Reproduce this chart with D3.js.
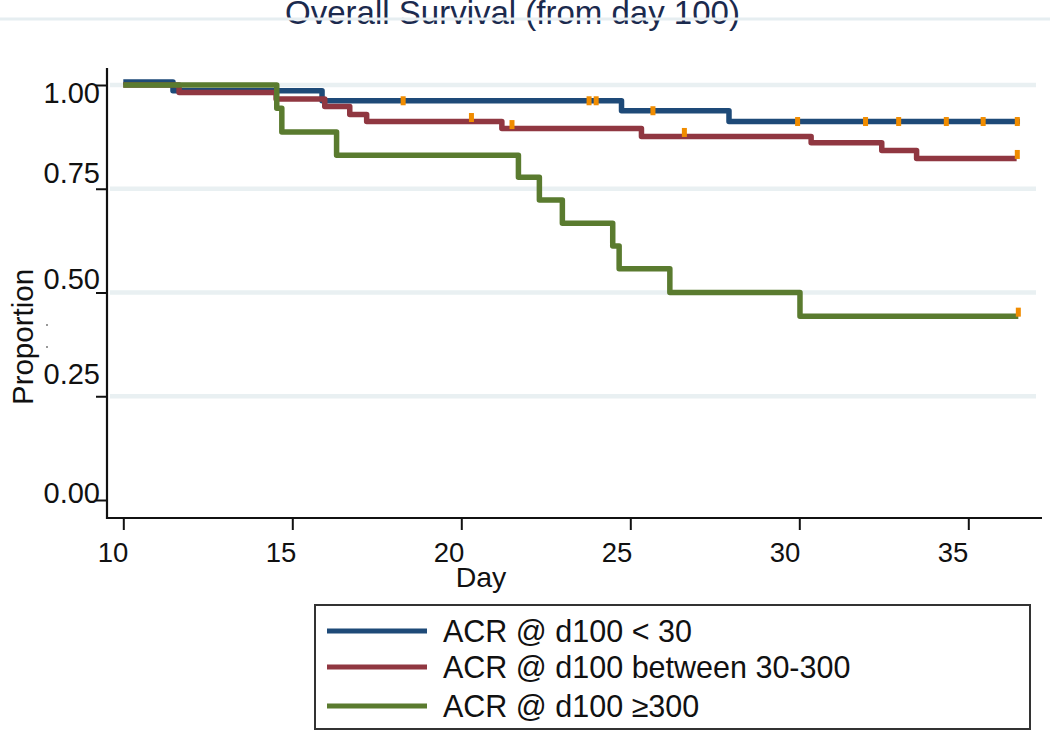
<!DOCTYPE html>
<html>
<head>
<meta charset="utf-8">
<script src="https://cdn.jsdelivr.net/npm/d3@7"></script>
<style>
  html, body { margin: 0; padding: 0; background: #fff; }
  svg { display: block; font-family: "Liberation Sans", Arial, sans-serif; }
</style>
</head>
<body>
<svg id="chart" width="1050" height="732"></svg>
<script>
// ---------------- data ----------------
const titleText = "Overall Survival (from day 100)";
const xLabel = "Day";
const yLabel = "Proportion";
const xTicks = [10, 15, 20, 25, 30, 35];
const yTicks = [0, 0.25, 0.5, 0.75, 1];
const yTickLabels = ["0.00", "0.25", "0.50", "0.75", "1.00"];
const gridValues = [0.25, 0.5, 0.75, 1];
const seriesNames = ["ACR @ d100 < 30", "ACR @ d100 between 30-300", "ACR @ d100 \u2265300"];

const blueTimes = [10, 11.47, 15.88, 24.74, 27.92, 36.53];
const blueSurv  = [1.007, 0.986, 0.962, 0.938, 0.912, 0.912];
const blueCensor = [18.28, 23.78, 23.99, 25.67, 29.95, 31.96, 32.94, 34.35, 35.44, 36.45];

const redTimes = [10, 11.65, 14.52, 15.96, 16.7, 17.2, 21.2, 25.33, 30.35, 32.44, 33.47, 36.43];
const redSurv  = [1.0, 0.982, 0.966, 0.948, 0.929, 0.912, 0.895, 0.876, 0.861, 0.842, 0.823, 0.823];
const redCensor = [20.3, 21.5, 26.6, 36.45];

const greenTimes = [10, 14.54, 14.69, 16.31, 21.69, 22.31, 22.99, 24.48, 24.67, 26.17, 30.02, 36.48];
const greenSurv  = [1.0, 0.944, 0.887, 0.831, 0.778, 0.723, 0.667, 0.612, 0.557, 0.5, 0.443, 0.443];
const greenCensor = [36.48];

// ---------------- styles / layout ----------------
const colors = ["#1e4a78", "#903741", "#5a7b2f"];
const censorColor = "#f08c00";
const censorShift = [0, -4, -4];
const yLabelShift = [3, -12, -3.5, -5.5, 17.7]; // baseline offsets for 0,.25,.5,.75,1 labels

const svg = d3.select("#chart");

const x = d3.scaleLinear().domain([10, 35]).range([123.3, 968.3]);
const y = d3.scaleLinear().domain([0, 1]).range([500, 85]);
const xLabelPos = d3.scaleLinear().domain([10, 35]).range([113, 953]);

// title
svg.append("text")
  .attr("x", 512.5).attr("y", 24)
  .attr("text-anchor", "middle")
  .attr("font-size", 33)
  .attr("fill", "#1b2a4e")
  .text(titleText);

// stray top grid line across title
svg.append("line")
  .attr("x1", 0).attr("x2", 1050).attr("y1", 19).attr("y2", 19)
  .attr("stroke", "#e6eef1").attr("stroke-width", 3);

// grid lines
svg.append("g").selectAll("line").data(gridValues).join("line")
  .attr("x1", 110).attr("x2", 1036)
  .attr("y1", d => y(d)).attr("y2", d => y(d))
  .attr("stroke", "#e9f0f2").attr("stroke-width", 4.5);

// axes (ticks via d3 axes)
const yAxis = svg.append("g").attr("transform", "translate(107,0)")
  .call(d3.axisLeft(y).tickValues(yTicks).tickSize(11).tickFormat(""));
yAxis.select(".domain").remove();
yAxis.selectAll(".tick line").attr("stroke", "#111").attr("stroke-width", 2);

const xAxis = svg.append("g").attr("transform", "translate(0,518)")
  .call(d3.axisBottom(x).tickValues(xTicks).tickSize(12).tickFormat(""));
xAxis.select(".domain").remove();
xAxis.selectAll(".tick line").attr("stroke", "#111").attr("stroke-width", 2);

// axis lines
svg.append("line").attr("x1", 107).attr("x2", 107).attr("y1", 68).attr("y2", 519)
  .attr("stroke", "#111").attr("stroke-width", 2.2);
svg.append("line").attr("x1", 106).attr("x2", 1042).attr("y1", 518).attr("y2", 518)
  .attr("stroke", "#111").attr("stroke-width", 2.2);

// y tick labels
svg.append("g").selectAll("text").data(yTicks).join("text")
  .attr("x", 100)
  .attr("y", (d, i) => y(d) + yLabelShift[i])
  .attr("text-anchor", "end")
  .attr("font-size", 29)
  .attr("fill", "#111")
  .text((d, i) => yTickLabels[i]);

// x tick labels
svg.append("g").selectAll("text").data(xTicks).join("text")
  .attr("x", d => xLabelPos(d))
  .attr("y", 562)
  .attr("text-anchor", "middle")
  .attr("font-size", 27.5)
  .attr("fill", "#111")
  .text(d => d);

// axis titles
svg.append("text")
  .attr("x", 481).attr("y", 587)
  .attr("text-anchor", "middle")
  .attr("font-size", 28.5)
  .attr("fill", "#111")
  .text(xLabel);

svg.append("text")
  .attr("transform", "translate(33,337) rotate(-90)")
  .attr("text-anchor", "middle")
  .attr("font-size", 29.5)
  .attr("fill", "#111")
  .text(yLabel);

// tiny artifact dots near y label
svg.append("g").selectAll("circle").data([325, 347]).join("circle")
  .attr("cx", 47).attr("cy", d => d).attr("r", 1)
  .attr("fill", "#777");

// curves
const series = [
  { t: blueTimes, s: blueSurv, c: blueCensor },
  { t: redTimes, s: redSurv, c: redCensor },
  { t: greenTimes, s: greenSurv, c: greenCensor }
];

const line = d3.line()
  .x(d => x(d[0]))
  .y(d => y(d[1]))
  .curve(d3.curveStepAfter);

function survAt(sr, t) {
  let v = sr.s[0];
  for (let i = 0; i < sr.t.length; i++) { if (sr.t[i] <= t) v = sr.s[i]; }
  return v;
}

series.forEach((sr, i) => {
  const pts = sr.t.map((t, j) => [t, sr.s[j]]);
  svg.append("path")
    .attr("d", line(pts))
    .attr("fill", "none")
    .attr("stroke", colors[i])
    .attr("stroke-width", 5.5)
    .attr("stroke-linejoin", "round");
});

series.forEach((sr, i) => {
  svg.append("g").selectAll("rect").data(sr.c).join("rect")
    .attr("x", d => x(d) - 2.5)
    .attr("y", d => y(survAt(sr, d)) - 4.5 + censorShift[i])
    .attr("width", 5)
    .attr("height", 9)
    .attr("fill", censorColor);
});

// legend
svg.append("rect")
  .attr("x", 315).attr("y", 605).attr("width", 715).attr("height", 124)
  .attr("fill", "#fff").attr("stroke", "#333").attr("stroke-width", 2);

const legendBaselines = [642, 678, 717];
const lg = svg.append("g").selectAll("g").data(seriesNames).join("g");
lg.append("line")
  .attr("x1", 327).attr("x2", 427)
  .attr("y1", (d, i) => legendBaselines[i] - 11)
  .attr("y2", (d, i) => legendBaselines[i] - 11)
  .attr("stroke", (d, i) => colors[i])
  .attr("stroke-width", 5);
lg.append("text")
  .attr("x", 443)
  .attr("y", (d, i) => legendBaselines[i])
  .attr("font-size", 30.5)
  .attr("fill", "#111")
  .text(d => d);
</script>
</body>
</html>
